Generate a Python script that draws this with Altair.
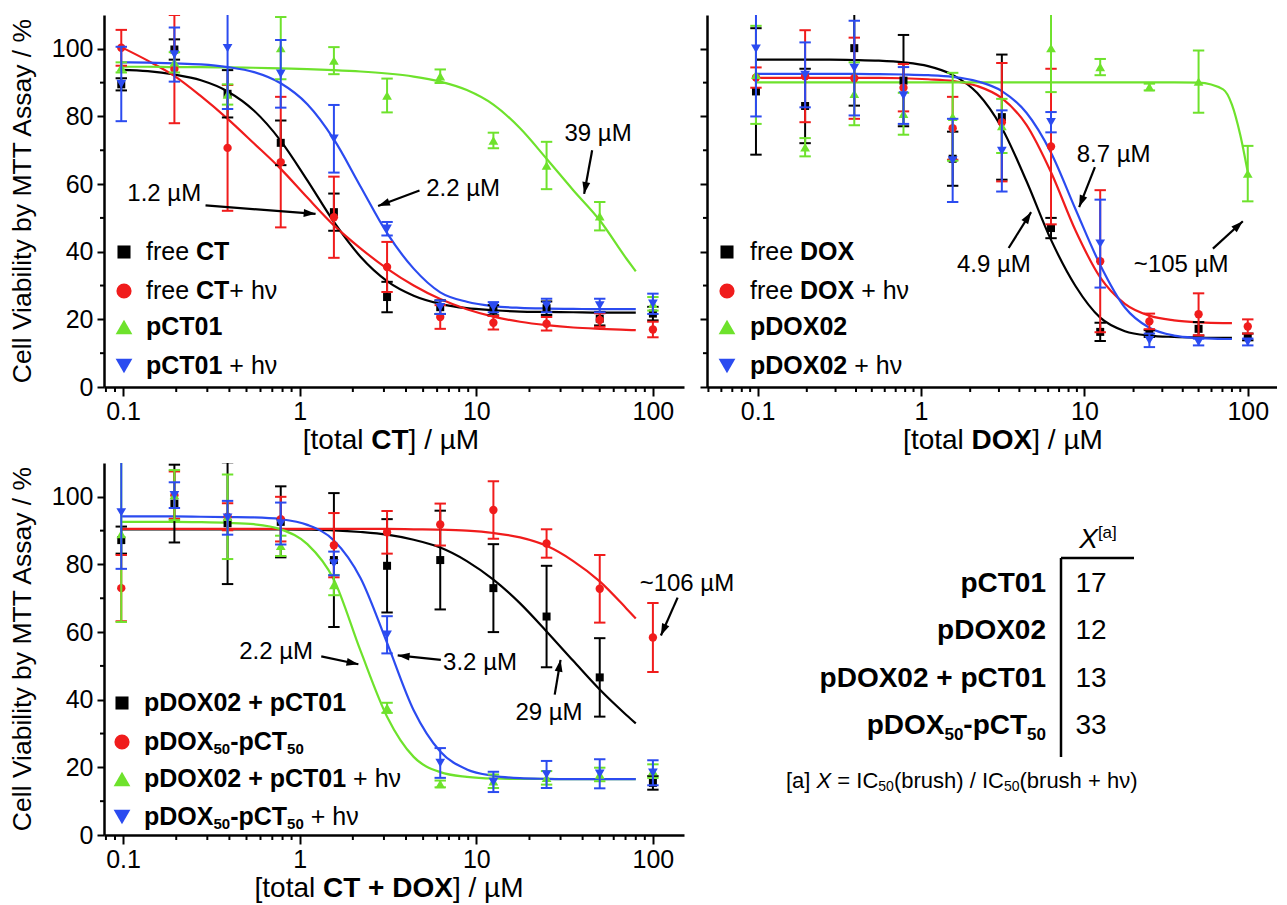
import math
import altair as alt
import pandas as pd

FONT = "Liberation Sans"
COLORS = ["#000000", "#f01c1c", "#6ee22c", "#2b4bf0"]
SHAPES = ["square", "circle", "triangle-up", "triangle-down"]
PT_SIZE = [64, 70, 95, 95]
LEG_SIZE = [170, 230, 280, 280]
ARROW = "M0,0L0.5,1.5L-0.5,1.5Z"

# ---------------- data ----------------
X = [0.0977, 0.1953, 0.3906, 0.7813, 1.5625, 3.125, 6.25, 12.5, 25, 50, 100]
XC = [0.0977, 0.138, 0.195, 0.276, 0.391, 0.552, 0.781, 1.105, 1.5625, 2.21, 3.125,
      4.42, 6.25, 8.84, 12.5, 17.7, 25, 35.4, 50, 70.7, 80]
XC_EXT = [90, 100]

# panel 1 (CT)
P1_BLACK = [89.5, 99.8, 86.7, 72.2, 51.7, 26.6, 23.6, 22.7, 23.3, 20.2, 21.7]
P1_BLACK_ERR = [1.8, 3.0, 7.0, 6.6, 5.5, 4.5, 2.0, 1.5, 2.0, 2.0, 2.0]
P1_RED = [100.3, 94.0, 70.7, 66.5, 50.2, 35.5, 20.7, 19.0, 18.7, 19.8, 17.0]
P1_RED_ERR = [5.3, 16.0, 18.6, 19.3, 12.0, 7.4, 3.5, 2.0, 2.0, 2.0, 2.3]
P1_GREEN = [94.5, 96.0, 86.5, 100.2, 96.5, 86.2, 91.9, 72.9, 65.5, 50.5, 24.6]
P1_GREEN_ERR = [1.5, 3.0, 3.0, 9.2, 4.0, 5.0, 2.0, 2.3, 7.0, 4.2, 2.0]
P1_BLUE = [89.6, 98.3, 100.2, 92.6, 73.4, 46.8, 23.6, 23.6, 24.1, 24.1, 24.6]
P1_BLUE_ERR = [11.0, 8.0, 18.0, 10.0, 10.0, 2.0, 2.0, 1.5, 2.0, 2.0, 3.0]
C1_BLACK = [93.8, 93.4, 92.4, 90.7, 87.4, 81.7, 72.8, 61.1, 48.8, 38.5, 31.3, 27.0, 24.6, 23.3, 22.7, 22.3, 22.2, 22.1, 22.0, 22.0, 22.0]
C1_RED = [100.5, 96.5, 92.0, 86.0, 79.3, 72.0, 64.5, 56.0, 47.8, 41.0, 35.0, 30.0, 26.0, 23.0, 20.8, 19.3, 18.3, 17.6, 17.2, 16.9, 16.8]
C1_GREEN = [94.7, 94.7, 94.6, 94.6, 94.5, 94.4, 94.2, 94.0, 93.7, 93.3, 92.7, 91.8, 90.3, 87.8, 83.5, 76.5, 67.5, 58.2, 49.3, 38.0, 34.2]
C1_BLUE = [96.0, 95.9, 95.7, 95.4, 94.6, 93.1, 89.8, 83.6, 73.2, 59.3, 45.5, 35.0, 28.0, 25.2, 23.9, 23.4, 23.2, 23.1, 23.0, 23.0, 23.0]

# panel 2 (DOX)
P2_BLACK = [87.4, 83.1, 100.2, 90.6, 67.5, 79.8, 47.0, 16.3, 15.8, 17.2, 14.8]
P2_BLACK_ERR = [18.7, 11.0, 17.0, 13.5, 8.0, 18.5, 3.0, 2.7, 1.0, 2.0, 1.0]
P2_RED = [91.5, 91.9, 91.3, 88.5, 76.5, 78.3, 71.1, 37.2, 19.4, 21.5, 17.9]
P2_RED_ERR = [3.0, 13.6, 12.0, 7.0, 9.3, 17.5, 23.0, 21.0, 2.3, 6.2, 2.1]
P2_GREEN = [92.3, 70.9, 86.7, 80.8, 79.9, 77.2, 100.2, 94.6, 88.7, 90.3, 63.1]
P2_GREEN_ERR = [14.5, 2.7, 9.3, 6.2, 13.0, 8.0, 13.0, 2.4, 1.0, 9.2, 8.2]
P2_BLUE = [100.0, 92.3, 94.3, 86.2, 67.0, 69.8, 78.3, 42.4, 13.8, 13.3, 13.3]
P2_BLUE_ERR = [20.0, 9.6, 14.0, 8.4, 12.3, 12.0, 3.0, 13.0, 2.0, 1.0, 1.0]
C2_BLACK = [96.8, 96.8, 96.8, 96.8, 96.7, 96.5, 96.0, 94.9, 92.3, 86.9, 76.6, 60.9, 43.5, 29.8, 20.5, 16.5, 15.2, 14.8, 14.6, 14.5, 14.5]
C2_RED = [91.4, 91.4, 91.4, 91.4, 91.4, 91.4, 91.3, 91.0, 90.5, 89.0, 85.4, 77.5, 63.5, 46.2, 32.4, 24.6, 21.1, 19.7, 19.1, 18.9, 18.9]
C2_GREEN = [90.1, 90.1, 90.1, 90.1, 90.1, 90.1, 90.1, 90.1, 90.1, 90.1, 90.1, 90.1, 90.1, 90.1, 90.1, 90.1, 90.1, 90.1, 90.0, 88.0, 83.5, 74.5, 63.5]
C2_BLUE = [92.6, 92.6, 92.6, 92.6, 92.6, 92.5, 92.4, 92.2, 91.7, 90.4, 87.5, 81.1, 69.3, 52.5, 36.1, 23.5, 17.5, 15.2, 14.5, 14.2, 14.2]

# panel 3 (CT + DOX)
P3_BLACK = [87.2, 98.0, 92.2, 92.6, 81.3, 79.6, 81.3, 73.0, 64.6, 46.6, 15.4]
P3_BLACK_ERR = [4.0, 11.5, 18.0, 10.5, 19.8, 13.8, 14.6, 13.0, 15.0, 11.6, 2.0]
P3_RED = [73.0, 100.5, 94.1, 93.4, 85.7, 89.5, 91.8, 96.1, 86.2, 72.8, 58.4]
P3_RED_ERR = [9.8, 7.0, 4.0, 6.6, 9.5, 6.3, 6.2, 8.5, 4.2, 10.0, 10.2]
P3_GREEN = [89.0, 100.5, 94.1, 85.5, 73.9, 37.6, 15.1, 15.9, 16.9, 17.9, 18.9]
P3_GREEN_ERR = [26.0, 7.4, 12.5, 3.0, 3.0, 1.5, 1.0, 2.0, 2.0, 2.0, 2.0]
P3_BLUE = [95.4, 100.5, 93.8, 92.1, 80.3, 59.2, 21.3, 15.7, 17.9, 18.1, 18.4]
P3_BLUE_ERR = [16.7, 3.8, 5.0, 6.2, 3.5, 5.5, 4.4, 3.0, 4.0, 4.3, 3.7]
C3_BLACK = [90.4, 90.4, 90.4, 90.4, 90.4, 90.4, 90.4, 90.3, 90.1, 89.6, 88.8, 87.3, 85.0, 81.0, 75.5, 68.5, 60.2, 51.5, 43.0, 35.5, 33.0]
C3_RED = [90.5, 90.5, 90.5, 90.5, 90.5, 90.5, 90.5, 90.5, 90.5, 90.5, 90.5, 90.4, 90.3, 90.0, 89.3, 88.0, 85.5, 81.0, 75.0, 67.0, 64.0]
C3_GREEN = [92.6, 92.6, 92.6, 92.5, 92.3, 91.9, 90.4, 86.0, 75.5, 54.5, 35.0, 23.1, 18.6, 17.2, 16.7, 16.6, 16.6, 16.5, 16.5, 16.5, 16.5]
C3_BLUE = [94.2, 94.2, 94.2, 94.1, 94.0, 93.9, 93.4, 91.7, 87.1, 76.0, 56.8, 36.9, 24.7, 19.4, 17.5, 16.8, 16.6, 16.5, 16.5, 16.5, 16.5]

# annotations: text, x, y, align, arrow tail, arrow head (data units)
ANN1 = [("1.2 µM", 0.171, 57.1, "center", (0.293, 53.7), (1.23, 51.2)),
        ("2.2 µM", 5.2, 58.6, "left", (4.77, 58.1), (2.78, 53.5)),
        ("39 µM", 48.9, 74.9, "center", (45.3, 70.0), (40.8, 57.1))]
ANN2 = [("8.7 µM", 15.1, 68.5, "center", (11.6, 65.0), (9.29, 53.2)),
        ("4.9 µM", 2.79, 36.0, "center", (3.44, 41.1), (4.72, 51.7)),
        ("~105 µM", 39.1, 36.0, "center", (61.2, 40.9), (93.3, 49.0))]
ANN3 = [("2.2 µM", 0.736, 54.1, "center", (1.325, 52.8), (2.15, 50.5)),
        ("3.2 µM", 10.5, 50.8, "center", (6.3, 51.8), (3.59, 53.1)),
        ("29 µM", 25.8, 36.1, "center", (27.8, 41.5), (30.0, 51.8)),
        ("~106 µM", 155.8, 74.3, "center", (138.0, 70.2), (111.0, 59.0))]

TABLE_ROWS = ["pCT01", "pDOX02", "pDOX02 + pCT01", "pDOX50-pCT50"]
TABLE_VALUES = ["17", "12", "13", "33"]
YTITLE = "Cell Viability by MTT Assay / %"

MAJOR_X = [0.1, 1, 10, 100]
MINOR = [2, 3, 4, 5, 6, 7, 8, 9]
MINOR_13 = [0.08, 0.09] + [m / 10 for m in MINOR] + MINOR + [m * 10 for m in MINOR]
MINOR_2 = [0.05, 0.06, 0.07, 0.08, 0.09] + [m / 10 for m in MINOR] + MINOR + [m * 10 for m in MINOR]
MAJOR_Y = [0, 20, 40, 60, 80, 100]
MINOR_Y = [10, 30, 50, 70, 90]

# ---------------- text helpers ----------------
REG_W = {' ': 278, '[': 278, ']': 278, '/': 278, '(': 333, ')': 333, '+': 584, '=': 584, '-': 333,
         '~': 584, '.': 278, '%': 889, 'a': 556, 'b': 556, 'c': 500, 'd': 556, 'e': 556, 'f': 278,
         'h': 556, 'i': 222, 'l': 222, 'o': 556, 'p': 556, 'r': 333, 's': 500, 't': 278, 'u': 556,
         'y': 500, 'C': 722, 'D': 722, 'I': 278, 'M': 833, 'O': 778, 'T': 611, 'X': 667,
         'µ': 576, 'ν': 500}
BOLD_W = {' ': 278, '+': 584, '-': 333, 'p': 611, 'C': 722, 'D': 722, 'O': 778, 'T': 611, 'X': 667}

ONE = pd.DataFrame({"k": [0]})


def tw(text, size, bold=False):
    tab = BOLD_W if bold else REG_W
    return sum(tab.get(ch, 556) for ch in text) * size / 1000.0


def text_chart(text, x, y, size, bold=False, italic=False, align="left", angle=None):
    props = dict(text=text, font=FONT, fontSize=size, fontWeight="bold" if bold else "normal",
                 fontStyle="italic" if italic else "normal", align=align, baseline="middle",
                 color="#000000")
    if angle is not None:
        props["angle"] = angle
    return alt.Chart(ONE).mark_text(**props).encode(x=alt.value(x), y=alt.value(y))


def rich(segs, x, y, align="left"):
    total = sum(tw(s[0], s[1], s[2]) for s in segs)
    if align == "center":
        cx = x - total / 2
    elif align == "right":
        cx = x - total
    else:
        cx = x
    out = []
    for text, size, bold, italic, dy in segs:
        sp = tw(" ", size, bold)
        lead = len(text) - len(text.lstrip(" "))
        trail = len(text) - len(text.rstrip(" "))
        core = text.strip(" ")
        cx += lead * sp
        out.append(text_chart(core, cx, y + dy, size, bold, italic))
        cx += tw(core, size, bold) + trail * sp
    return out


def R(t, s=25):
    return (t, s, False, False, 0)


def B(t, s=25):
    return (t, s, True, False, 0)


def SUB(t, s=15, dy=7):
    return (t, s, True, False, dy)


# ---------------- panels ----------------
def build_panel(cfg, minor_x, curves, series, annots, legend_rows, xtitle, xtitle_cx, ytitle, ylabels):
    W, H = cfg["width"], cfg["height"]
    xmin, xmax = cfg["xmin"], cfg["xmax"]
    ppd = W / math.log10(xmax / xmin)
    ppu = H / 110.0
    xs = alt.Scale(type="log", domain=[xmin, xmax], nice=False)
    ys = alt.Scale(type="linear", domain=[0, 110], nice=False, zero=False)
    xaxis = alt.Axis(values=MAJOR_X, title=None, grid=False, format="~g", tickSize=9,
                     labelPadding=3, labelOverlap=False, labelFlush=False, labelBound=False)
    yaxis = alt.Axis(values=MAJOR_Y, title=None, grid=False, labels=ylabels, tickSize=7,
                     labelPadding=4, labelOverlap=False)

    def ex(field="x"):
        return alt.X(field + ":Q", scale=xs, axis=xaxis)

    def ey(field):
        return alt.Y(field + ":Q", scale=ys, axis=yaxis)

    def dx_(v):
        return alt.XDatum(v, scale=xs, axis=xaxis)

    def dy_(v):
        return alt.YDatum(v, scale=ys, axis=yaxis)

    layers = []
    for i, (cx, cy) in enumerate(curves):
        df = pd.DataFrame({"x": cx, "y": cy})
        layers.append(alt.Chart(df).mark_line(color=COLORS[i], strokeWidth=2.2, interpolate="monotone",
                                              clip=True).encode(x=ex(), y=ey("y")))
    # minor ticks
    layers.append(alt.Chart(pd.DataFrame({"x": minor_x})).mark_rule(color="#000000", strokeWidth=2).encode(
        x=ex(), y=alt.value(H), y2=alt.value(H + 5)))
    layers.append(alt.Chart(pd.DataFrame({"y": MINOR_Y})).mark_rule(color="#000000", strokeWidth=2).encode(
        y=ey("y"), x=alt.value(0), x2=alt.value(-4)))
    for i, (vals, errs) in enumerate(series):
        df = pd.DataFrame({"x": X, "y": vals, "e": errs})
        base = alt.Chart(df).transform_calculate(lo="datum.y - datum.e", hi="datum.y + datum.e")
        c = COLORS[i]
        layers.append(base.mark_rule(color=c, strokeWidth=2, clip=True).encode(
            x=ex(), y=ey("lo"), y2="hi:Q"))
        for f in ("lo", "hi"):
            layers.append(base.mark_point(shape="stroke", size=130, strokeWidth=2, color=c, filled=False,
                                          opacity=1, clip=True).encode(x=ex(), y=ey(f)))
        layers.append(base.mark_point(shape=SHAPES[i], size=PT_SIZE[i], filled=True, color=c, opacity=1,
                                      strokeWidth=0, clip=True).encode(x=ex(), y=ey("y")))
    for text, tx, ty, align, tail, head in annots:
        layers.append(alt.Chart(ONE).mark_text(text=text, font=FONT, fontSize=24, align=align,
                                               baseline="middle", color="#000000").encode(
            x=dx_(tx), y=dy_(ty)))
        layers.append(alt.Chart(ONE).mark_rule(color="#000000", strokeWidth=2.2).encode(
            x=dx_(tail[0]), y=dy_(tail[1]), x2=alt.X2Datum(head[0]), y2=alt.Y2Datum(head[1])))
        ddx = (math.log10(head[0]) - math.log10(tail[0])) * ppd
        ddy = -(head[1] - tail[1]) * ppu
        ang = math.degrees(math.atan2(ddx, -ddy)) % 360
        layers.append(alt.Chart(ONE).mark_point(shape=ARROW, size=250, filled=True, color="#000000",
                                                opacity=1, strokeWidth=0, angle=ang).encode(
            x=dx_(head[0]), y=dy_(head[1])))
    for i, segs in enumerate(legend_rows):
        ly = cfg["leg_y"][i]
        layers.append(alt.Chart(ONE).mark_point(shape=SHAPES[i], size=LEG_SIZE[i], filled=True,
                                                color=COLORS[i], opacity=1, strokeWidth=0).encode(
            x=alt.value(cfg["sym_x"]), y=alt.value(ly)))
        layers += rich(segs, cfg["txt_x"], ly, "left")
    layers += rich(xtitle, xtitle_cx, H + 54, "center")
    if ytitle:
        layers.append(text_chart(YTITLE, -81, H / 2, 26.5, align="center", angle=270))
    return alt.layer(*layers).properties(width=W, height=H)


CFG1 = dict(width=580, height=372, xmin=0.078, xmax=150, sym_x=20, txt_x=42, leg_y=[237, 276, 312, 351])
CFG2 = dict(width=570, height=372, xmin=0.049, xmax=151, sym_x=20, txt_x=43, leg_y=[237, 276, 312, 351])
CFG3 = dict(width=580, height=372, xmin=0.078, xmax=150, sym_x=18, txt_x=40, leg_y=[240, 279, 316, 354])

LEG1 = [[R("free "), B("CT")],
        [R("free "), B("CT"), R("+ hν")],
        [B("pCT01")],
        [B("pCT01"), R(" + hν")]]
LEG2 = [[R("free "), B("DOX")],
        [R("free "), B("DOX"), R(" + hν")],
        [B("pDOX02")],
        [B("pDOX02"), R(" + hν")]]
LEG3 = [[B("pDOX02 + pCT01")],
        [B("pDOX"), SUB("50"), B("-pCT"), SUB("50")],
        [B("pDOX02 + pCT01"), R(" + hν")],
        [B("pDOX"), SUB("50"), B("-pCT"), SUB("50"), R(" + hν")]]

p1 = build_panel(CFG1, MINOR_13,
                 [(XC, C1_BLACK), (XC, C1_RED), (XC, C1_GREEN), (XC, C1_BLUE)],
                 [(P1_BLACK, P1_BLACK_ERR), (P1_RED, P1_RED_ERR), (P1_GREEN, P1_GREEN_ERR), (P1_BLUE, P1_BLUE_ERR)],
                 ANN1, LEG1, [R("[total ", 28), B("CT", 28), R("] / µM", 28)], 287, True, True)
p2 = build_panel(CFG2, MINOR_2,
                 [(XC, C2_BLACK), (XC, C2_RED), (XC + XC_EXT, C2_GREEN), (XC, C2_BLUE)],
                 [(P2_BLACK, P2_BLACK_ERR), (P2_RED, P2_RED_ERR), (P2_GREEN, P2_GREEN_ERR), (P2_BLUE, P2_BLUE_ERR)],
                 ANN2, LEG2, [R("[total ", 28), B("DOX", 28), R("] / µM", 28)], 296, False, False)
p3 = build_panel(CFG3, MINOR_13,
                 [(XC, C3_BLACK), (XC, C3_RED), (XC, C3_GREEN), (XC, C3_BLUE)],
                 [(P3_BLACK, P3_BLACK_ERR), (P3_RED, P3_RED_ERR), (P3_GREEN, P3_GREEN_ERR), (P3_BLUE, P3_BLUE_ERR)],
                 ANN3, LEG3, [R("[total ", 28), B("CT + DOX", 28), R("] / µM", 28)], 285, True, True)

# ---------------- table cell ----------------
t = []
t.append(alt.Chart(ONE).mark_rule(color="#000000", strokeWidth=2.5).encode(
    x=alt.value(354), x2=alt.value(427), y=alt.value(95)))
t.append(alt.Chart(ONE).mark_rule(color="#000000", strokeWidth=2.5).encode(
    x=alt.value(354), y=alt.value(95), y2=alt.value(294)))
t += rich([("X", 28, False, True, 0), ("[a]", 17, False, False, -7)], 391, 77, "center")
ROW_Y = [121, 168, 216, 263]
for i, (name, val) in enumerate(zip(TABLE_ROWS, TABLE_VALUES)):
    if name.startswith("pDOX50"):
        segs = [B("pDOX", 28), ("50", 17, True, False, 9), B("-pCT", 28), ("50", 17, True, False, 9)]
    else:
        segs = [B(name, 28)]
    t += rich(segs, 339, ROW_Y[i], "right")
    t.append(text_chart(val, 384, ROW_Y[i], 28, align="center"))
t += rich([R("[a] ", 22), ("X", 22, False, True, 0), R(" = IC", 22), ("50", 14, False, False, 6),
           R("(brush) / IC", 22), ("50", 14, False, False, 6), R("(brush + hν)", 22)], 79, 318, "left")
p4 = alt.layer(*t).properties(width=570, height=372)

chart = alt.concat(p1, p2, p3, p4, columns=2, spacing=alt.RowColnumber(row=76, column=23),
                   bounds="flush").properties(
    padding={"left": 1, "top": 7, "right": 0, "bottom": 0}
).configure(font=FONT).configure_view(stroke=None).configure_axis(
    labelFont=FONT, labelFontSize=25, labelColor="#000000", domainColor="#000000", domainWidth=2.5,
    tickColor="#000000", tickWidth=2)

chart.save("out.html", embed_options={"renderer": "svg", "actions": False})
